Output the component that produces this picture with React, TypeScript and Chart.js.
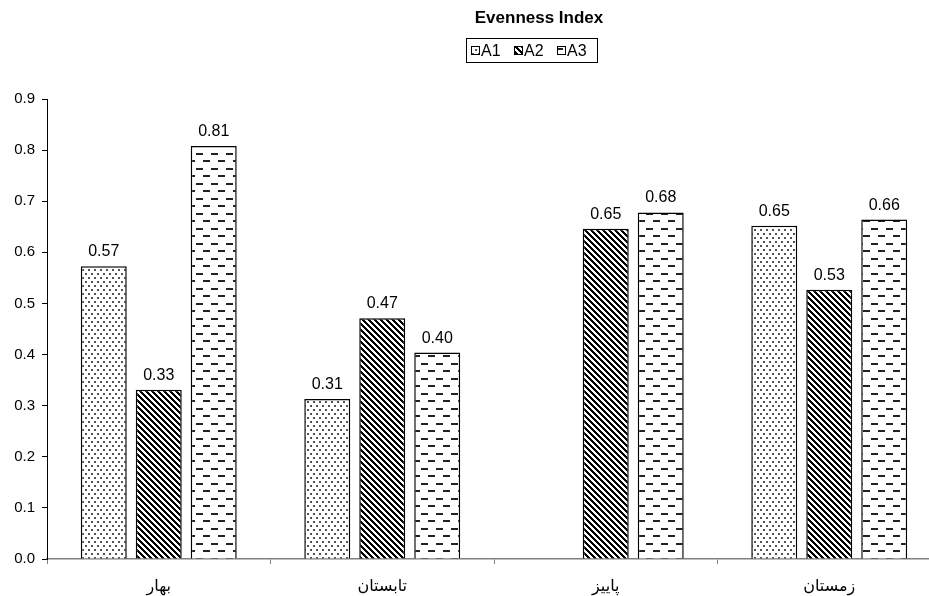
import React, { useEffect, useRef } from "react";
import { Chart, registerables } from "chart.js";

Chart.register(...registerables);

const categories = ["بهار", "تابستان", "پاییز", "زمستان"];
const seriesNames = ["A1", "A2", "A3"];
const a1Values = [0.573, 0.313, null, 0.652];
const a2Values = [0.331, 0.471, 0.646, 0.527];
const a3Values = [0.808, 0.404, 0.678, 0.664];
const yTicks = [0, 0.1, 0.2, 0.3, 0.4, 0.5, 0.6, 0.7, 0.8, 0.9];
const chartTitle = "Evenness Index";

const FONT = "'Liberation Sans', Arial, 'DejaVu Sans', sans-serif";

function makePattern(kind: string): CanvasPattern {
  const c = document.createElement("canvas");
  const g = c.getContext("2d")!;
  if (kind === "dots") {
    c.width = 6;
    c.height = 8;
    g.fillStyle = "#fff";
    g.fillRect(0, 0, 6, 8);
    g.fillStyle = "#555";
    g.fillRect(1, 1, 2, 2);
    g.fillRect(4, 5, 2, 2);
  } else if (kind === "stripes") {
    c.width = 6;
    c.height = 6;
    const img = g.createImageData(6, 6);
    for (let y = 0; y < 6; y++) {
      for (let x = 0; x < 6; x++) {
        const v = (((x - y) % 6) + 6) % 6 < 3 ? 0 : 255;
        const i = (y * 6 + x) * 4;
        img.data[i] = v;
        img.data[i + 1] = v;
        img.data[i + 2] = v;
        img.data[i + 3] = 255;
      }
    }
    g.putImageData(img, 0, 0);
  } else {
    c.width = 15;
    c.height = 15;
    g.fillStyle = "#fff";
    g.fillRect(0, 0, 15, 15);
    g.fillStyle = "#222";
    g.fillRect(1, 3, 7, 2);
    g.fillRect(8, 10, 7, 2);
  }
  return g.createPattern(c, "repeat")!;
}

export default function App() {
  const ref = useRef<HTMLCanvasElement | null>(null);

  useEffect(() => {
    const canvas = ref.current;
    if (!canvas) return;
    const patterns = [makePattern("dots"), makePattern("stripes"), makePattern("dashes")];

    const valueLabels = {
      id: "valueLabels",
      afterDatasetsDraw(chart: any) {
        const ctx = chart.ctx;
        ctx.save();
        ctx.fillStyle = "#000";
        ctx.font = `16px ${FONT}`;
        ctx.textAlign = "center";
        ctx.textBaseline = "alphabetic";
        chart.data.datasets.forEach((ds: any, di: number) => {
          const meta = chart.getDatasetMeta(di);
          meta.data.forEach((el: any, i: number) => {
            const v = ds.data[i];
            if (v === null || v === undefined) return;
            ctx.fillText(v.toFixed(2), el.x, el.y - 10);
          });
        });
        ctx.restore();
      },
    };

    const titleLegend = {
      id: "titleLegend",
      afterDraw(chart: any) {
        const ctx = chart.ctx;
        ctx.save();
        ctx.fillStyle = "#000";
        ctx.font = `bold 17px ${FONT}`;
        ctx.textAlign = "center";
        ctx.textBaseline = "middle";
        ctx.fillText(chartTitle, 539, 18);
        // legend box
        ctx.strokeStyle = "#000";
        ctx.lineWidth = 1;
        ctx.strokeRect(466.5, 38.5, 131, 24);
        ctx.font = `16px ${FONT}`;
        ctx.textAlign = "left";
        ctx.textBaseline = "alphabetic";
        let x = 471;
        seriesNames.forEach((name, i) => {
          ctx.fillStyle = patterns[i];
          ctx.fillRect(x, 46, 9, 9);
          ctx.strokeStyle = "#000";
          ctx.strokeRect(x + 0.5, 46.5, 8, 8);
          ctx.fillStyle = "#000";
          ctx.fillText(name, x + 10, 56);
          x += 43;
        });
        ctx.restore();
      },
    };

    const chart = new Chart(canvas, {
      type: "bar",
      data: {
        labels: categories,
        datasets: [
          { label: seriesNames[0], data: a1Values, backgroundColor: patterns[0], borderColor: "#000", borderWidth: 1.5 },
          { label: seriesNames[1], data: a2Values, backgroundColor: patterns[1], borderColor: "#000", borderWidth: 1.5 },
          { label: seriesNames[2], data: a3Values, backgroundColor: patterns[2], borderColor: "#000", borderWidth: 1.5 },
        ] as any,
      },
      options: {
        responsive: false,
        animation: false,
        devicePixelRatio: 1,
        layout: { padding: { top: 99, left: 0, right: 0, bottom: 0 } },
        datasets: { bar: { categoryPercentage: 0.738, barPercentage: 0.836 } },
        plugins: {
          legend: { display: false },
          title: { display: false },
          tooltip: { enabled: false },
        },
        scales: {
          x: {
            offset: true,
            grid: { offset: true, drawOnChartArea: false, drawTicks: true, tickLength: 5, color: "#808080" },
            border: { display: true, color: "#808080", width: 1.5 },
            ticks: { color: "#000", font: { size: 16, family: FONT }, padding: 13 },
            afterFit(scale: any) {
              scale.height = 37;
            },
          },
          y: {
            min: 0,
            max: 0.9,
            afterBuildTicks(scale: any) {
              scale.ticks = yTicks.map((v) => ({ value: v }));
            },
            grid: { drawOnChartArea: false, drawTicks: true, tickLength: 5, color: "#000" },
            border: { display: true, color: "#000", width: 1 },
            ticks: {
              color: "#000",
              font: { size: 15, family: FONT },
              padding: 7,
              callback: (v: any) => Number(v).toFixed(1),
            },
            afterFit(scale: any) {
              scale.width = 47;
            },
          },
        },
      },
      plugins: [valueLabels, titleLegend],
    });
    return () => chart.destroy();
  }, []);

  return (
    <div style={{ position: "fixed", left: 0, top: 0, width: 929, height: 596, overflow: "hidden", background: "#fff" }}>
      <canvas ref={ref} width={941} height={596} style={{ width: 941, height: 596, display: "block" }} />
    </div>
  );
}
